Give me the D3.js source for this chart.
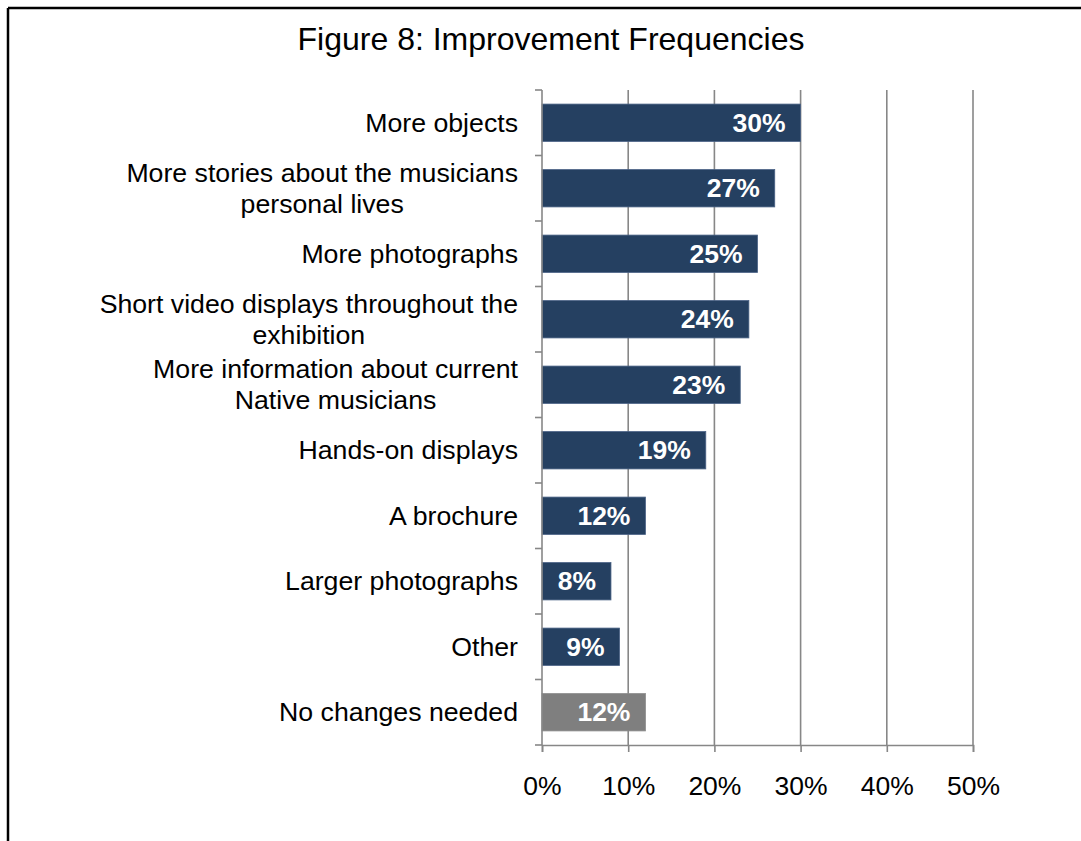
<!DOCTYPE html>
<html>
<head>
<meta charset="utf-8">
<script src="https://cdn.jsdelivr.net/npm/d3@7"></script>
<style>
  body { margin: 0; background: #fff; }
  svg { display: block; }
  text { font-family: "Liberation Sans", Arial, sans-serif; }
</style>
</head>
<body>
<svg id="chart" width="1081" height="841"></svg>
<script>
const title = "Figure 8: Improvement Frequencies";
const categories = [
  "More objects",
  "More stories about the musicians\npersonal lives",
  "More photographs",
  "Short video displays throughout the\nexhibition",
  "More information about current\nNative musicians",
  "Hands-on displays",
  "A brochure",
  "Larger photographs",
  "Other",
  "No changes needed"
];
const values = [0.30, 0.27, 0.25, 0.24, 0.23, 0.19, 0.12, 0.08, 0.09, 0.12];
const barColors = ["#254061", "#254061", "#254061", "#254061", "#254061", "#254061", "#254061", "#254061", "#254061", "#7f7f7f"];
const xTicks = [0, 0.1, 0.2, 0.3, 0.4, 0.5];

const svg = d3.select("#chart");

// frame (top and left)
svg.append("line").attr("x1", 8).attr("x2", 1081).attr("y1", 8).attr("y2", 8)
  .attr("stroke", "#000").attr("stroke-width", 2.5);
svg.append("line").attr("x1", 8).attr("x2", 8).attr("y1", 8).attr("y2", 841)
  .attr("stroke", "#000").attr("stroke-width", 2.5);

svg.append("text").attr("x", 551).attr("y", 50).attr("text-anchor", "middle")
  .attr("font-size", 32).attr("fill", "#000").text(title);

const x = d3.scaleLinear().domain([0, 0.5]).range([542, 973]);
const y = d3.scaleBand().domain(categories).range([90, 745])
  .paddingInner(0.43).paddingOuter(0.215);
const step = y.step();
const gridColor = "#878787";

// gridlines
svg.append("g").selectAll("line").data(xTicks.slice(1)).join("line")
  .attr("x1", d => x(d)).attr("x2", d => x(d))
  .attr("y1", 90).attr("y2", 745)
  .attr("stroke", gridColor).attr("stroke-width", 1.6);

// bars
svg.append("g").selectAll("rect").data(categories).join("rect")
  .attr("x", x(0))
  .attr("y", d => y(d))
  .attr("width", (d, i) => x(values[i]) - x(0))
  .attr("height", y.bandwidth())
  .attr("fill", (d, i) => barColors[i])
  .attr("stroke", (d, i) => i === 9 ? "#8c8c8c" : "#4a6285")
  .attr("stroke-width", 0.8);

// x axis
const xAxis = svg.append("g").attr("transform", "translate(0,745)")
  .call(d3.axisBottom(x).tickValues(xTicks).tickFormat(d3.format(".0%")).tickSize(7).tickPadding(24));
xAxis.select(".domain").attr("stroke", gridColor).attr("stroke-width", 1.6);
xAxis.selectAll(".tick line").attr("stroke", gridColor).attr("stroke-width", 1.6);
xAxis.selectAll(".tick text").attr("font-size", 26.5).attr("fill", "#000")
  .style("font-family", "'Liberation Sans', Arial, sans-serif");

// y axis line and ticks at band boundaries
svg.append("line").attr("x1", x(0)).attr("x2", x(0)).attr("y1", 90).attr("y2", 745)
  .attr("stroke", gridColor).attr("stroke-width", 1.6);
svg.append("g").selectAll("line").data(d3.range(categories.length + 1)).join("line")
  .attr("x1", x(0) - 7).attr("x2", x(0))
  .attr("y1", i => 90 + i * step).attr("y2", i => 90 + i * step)
  .attr("stroke", gridColor).attr("stroke-width", 1.6);

// category labels
const labelRight = 518;
const lineH = 31;
categories.forEach((c, i) => {
  const lines = c.split("\n");
  const cy = y(c) + y.bandwidth() / 2;
  const g = svg.append("g");
  const texts = lines.map((ln, k) => g.append("text")
    .attr("font-size", 26.7).attr("fill", "#000")
    .attr("y", cy + (k - (lines.length - 1) / 2) * lineH + 9)
    .text(ln));
  const maxW = d3.max(texts, t => t.node().getComputedTextLength());
  texts.forEach(t => t.attr("x", labelRight - maxW / 2).attr("text-anchor", "middle"));
});

// value labels
svg.append("g").selectAll("text").data(categories).join("text")
  .attr("x", (d, i) => x(values[i]) - 15)
  .attr("y", d => y(d) + y.bandwidth() / 2 + 9)
  .attr("text-anchor", "end")
  .attr("font-size", 26.5).attr("font-weight", "bold").attr("fill", "#fff")
  .text((d, i) => d3.format(".0%")(values[i]));
</script>
</body>
</html>
